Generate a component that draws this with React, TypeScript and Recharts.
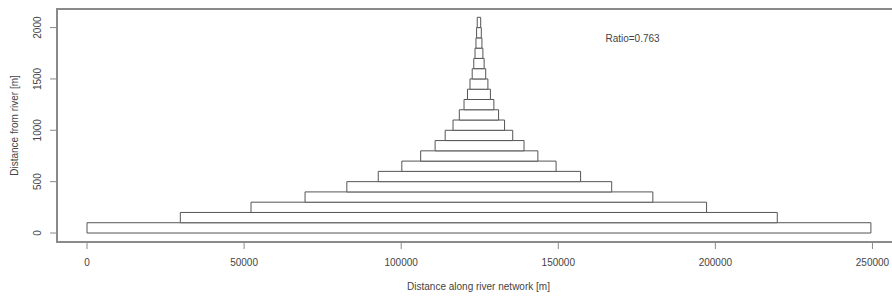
import {
  ComposedChart,
  Scatter,
  XAxis,
  YAxis,
  ReferenceArea,
  ReferenceDot,
  Label,
} from "recharts";

/* -------------------------------------------------------------------------- */
/*  Data                                             */
/* -------------------------------------------------------------------------- */

// bottom of each band, distance from river [m]
const levelBase = [
  0, 100, 200, 300, 400, 500, 600, 700, 800, 900, 1000, 1100, 1200, 1300, 1400,
  1500, 1600, 1700, 1800, 1900, 2000,
];
const bandHeight = 100;

// left / right edge of each band along the river network [m]
const leftEdge = [
  0, 29700, 52200, 69400, 82700, 92700, 100200, 106200, 110800, 114000, 116500,
  118500, 120000, 121100, 121900, 122600, 123100, 123500, 123800, 124000, 124200,
];
const rightEdge = [
  249500, 219700, 197200, 180100, 167000, 157100, 149300, 143500, 139100,
  135500, 132900, 131000, 129500, 128400, 127600, 126900, 126400, 126000,
  125700, 125500, 125300,
];

const xTicks = [0, 50000, 100000, 150000, 200000, 250000];
const yTicks = [0, 500, 1000, 1500, 2000];

const ratioText = "Ratio=0.763";
const ratioPos = { x: 165000, y: 1890 };

// R-style 4% padding around the data range
const xDomain: [number, number] = [-9550, 259400];
const yDomain: [number, number] = [-87.6, 2181];

const FONT = "'Liberation Sans', Arial, sans-serif";
const TEXT = "#444";
const LINE = "#555";
const FRAME = "#8a8a8a";

const bands = levelBase.map((y, i) => ({
  y0: y,
  y1: y + bandHeight,
  x0: leftEdge[i],
  x1: rightEdge[i],
  cx: (leftEdge[i] + rightEdge[i]) / 2,
  cy: y + bandHeight / 2,
}));

/* -------------------------------------------------------------------------- */
/*  Ticks & labels                                                            */
/* -------------------------------------------------------------------------- */

function XTick({ x, y, payload }: any) {
  return (
    <text
      x={x}
      y={y + 14.5}
      textAnchor="middle"
      fontFamily={FONT}
      fontSize={10}
      fill={TEXT}
    >
      {payload.value}
    </text>
  );
}

function YTick({ x, y, payload }: any) {
  const tx = x - 10;
  return (
    <text
      x={tx}
      y={y}
      textAnchor="middle"
      dominantBaseline="central"
      transform={`rotate(-90, ${tx}, ${y})`}
      fontFamily={FONT}
      fontSize={10}
      fill={TEXT}
    >
      {payload.value}
    </text>
  );
}

export default function App() {
  return (
    <div
      style={{
        position: "absolute",
        left: 0,
        top: 0,
        width: 892,
        height: 300,
        overflow: "hidden",
        background: "#fff",
      }}
    >
      <ComposedChart
        width={910}
        height={300}
        data={bands}
        margin={{ top: 9, right: 8, bottom: 18, left: 0 }}
      >
        <XAxis
          type="number"
          dataKey="cx"
          domain={xDomain}
          ticks={xTicks}
          allowDataOverflow
          height={40}
          axisLine={false}
          tickLine={{ stroke: FRAME, strokeWidth: 1 }}
          tickSize={7}
          tick={<XTick />}
          interval={0}
        >
          <Label
            content={({ viewBox }: any) => (
              <text
                x={viewBox.x + viewBox.width / 2 - 1}
                y={290}
                textAnchor="middle"
                fontFamily={FONT}
                fontSize={10}
                fill={TEXT}
              >
                Distance along river network [m]
              </text>
            )}
          />
        </XAxis>
        <YAxis
          type="number"
          dataKey="cy"
          domain={yDomain}
          ticks={yTicks}
          allowDataOverflow
          width={57}
          axisLine={false}
          tickLine={{ stroke: FRAME, strokeWidth: 1 }}
          tickSize={7}
          tick={<YTick />}
          interval={0}
        >
          <Label
            content={({ viewBox }: any) => {
              const cx = 14;
              const cy = viewBox.y + viewBox.height / 2;
              return (
                <text
                  x={cx}
                  y={cy}
                  textAnchor="middle"
                  dominantBaseline="central"
                  transform={`rotate(-90, ${cx}, ${cy})`}
                  fontFamily={FONT}
                  fontSize={10}
                  fill={TEXT}
                >
                  Distance from river [m]
                </text>
              );
            }}
          />
        </YAxis>

        {/* plot frame */}
        <ReferenceArea
          x1={xDomain[0]}
          x2={xDomain[1]}
          y1={yDomain[0]}
          y2={yDomain[1]}
          fill="none"
          stroke={FRAME}
          strokeWidth={2}
          ifOverflow="visible"
        />

        {/* stacked bands */}
        {bands.map((b, i) => (
          <ReferenceArea
            key={`band-${i}`}
            x1={b.x0}
            x2={b.x1}
            y1={b.y0}
            y2={b.y1}
            fill="#fff"
            fillOpacity={1}
            stroke={LINE}
            strokeWidth={1}
            ifOverflow="visible"
          />
        ))}

        <ReferenceDot
          x={ratioPos.x}
          y={ratioPos.y}
          r={0}
          fill="none"
          stroke="none"
          ifOverflow="visible"
          label={{
            content: ({ viewBox }: any) => (
              <text
                x={viewBox.x}
                y={viewBox.y + viewBox.height / 2}
                dominantBaseline="central"
                fontFamily={FONT}
                fontSize={10}
                fill={TEXT}
              >
                {ratioText}
              </text>
            ),
          }}
        />

        {/* invisible carrier series so the axes are driven by the bands */}
        <Scatter
          dataKey="cy"
          isAnimationActive={false}
          shape={() => <g />}
        />
      </ComposedChart>
    </div>
  );
}
